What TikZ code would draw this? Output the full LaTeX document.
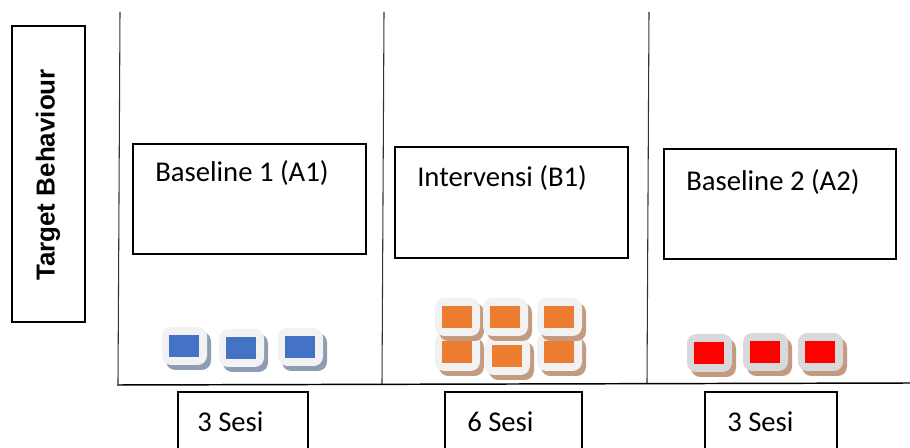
\documentclass[tikz,border=0pt]{standalone}
\usepackage{fontspec}
\setmainfont{Carlito}
\newfontfamily\tbfont{Liberation Sans}
\usetikzlibrary{fit}
\definecolor{tileblue}{HTML}{4472C4}
\definecolor{tileorange}{HTML}{ED7D31}
\definecolor{tilered}{HTML}{FF0000}
\definecolor{shblue}{HTML}{8E9CB4}
\definecolor{shbrown}{HTML}{C39B80}
\definecolor{litegray}{HTML}{F2F2F2}
\definecolor{midgray}{HTML}{D9D9D9}
\definecolor{linegray}{HTML}{333333}
\newcommand{\mytile}[5]{%
  \fill[#5,rounded corners=7] (#1+4,#2+5) rectangle ++(45,38);
  \fill[#4,rounded corners=7] (#1,#2) rectangle ++(45,38);
  \fill[#3] (#1+7,#2+8) rectangle ++(30,22);
}
\tikzset{
  lbl/.style={anchor=base west,inner sep=0pt,font=\fontsize{21.5}{24}\selectfont},
  framebox/.style={draw=black,line width=0.9pt,inner sep=0pt},
  divider/.style={draw=linegray,line width=0.8pt},
}
\begin{document}
\begin{tikzpicture}[x=0.75pt,y=-0.75pt]
\useasboundingbox (0,0) rectangle (910,448);
% y-axis label box
\node[framebox,fit={(12,26) (85,322)}] (tb) {};
\node[rotate=90,font=\tbfont\bfseries\fontsize{19.5}{22}\selectfont,inner sep=0pt] (tbl) at (48,175) {Target Behaviour};
% dividers
\coordinate (v1t) at (120,12); \coordinate (v1b) at (118,384);
\coordinate (v2t) at (384,12); \coordinate (v2b) at (382,384);
\coordinate (v3t) at (649,12); \coordinate (v3b) at (647,383);
\coordinate (axl) at (117,385); \coordinate (axr) at (910,383);
\draw[divider] (v1t) -- (v1b);
\draw[divider] (v2t) -- (v2b);
\draw[divider] (v3t) -- (v3b);
\draw[draw=black,line width=1.1pt] (axl) -- (axr);
% phase boxes
\node[framebox,fit={(133,144) (366,254)}] (p1) {};
\node[framebox,fit={(395,147) (628,258)}] (p2) {};
\node[framebox,fit={(664,149) (896,259)}] (p3) {};
\node[lbl] (p1t) at (155,182) {Baseline 1 (A1)};
\node[lbl] (p2t) at (417,187) {Intervensi (B1)};
\node[lbl] (p3t) at (686,191) {Baseline 2 (A2)};
% session boxes
\node[framebox,fit={(178,392) (308,452)}] (s1) {};
\node[framebox,fit={(445,392) (582,452)}] (s2) {};
\node[framebox,fit={(705,392) (837,452)}] (s3) {};
\node[lbl] (s1t) at (197,432) {3 Sesi};
\node[lbl] (s2t) at (467,432) {6 Sesi};
\node[lbl] (s3t) at (727,432) {3 Sesi};
% tiles
\mytile{162}{327}{tileblue}{litegray}{shblue}
\mytile{219}{329}{tileblue}{litegray}{shblue}
\mytile{278}{328}{tileblue}{litegray}{shblue}
\mytile{435}{333}{tileorange}{litegray}{shbrown}
\mytile{485}{337}{tileorange}{litegray}{shbrown}
\mytile{537}{333}{tileorange}{litegray}{shbrown}
\mytile{435}{298}{tileorange}{litegray}{shbrown}
\mytile{483}{298}{tileorange}{litegray}{shbrown}
\mytile{537}{298}{tileorange}{litegray}{shbrown}
\mytile{687}{334}{tilered}{midgray}{shbrown}
\mytile{743}{333}{tilered}{midgray}{shbrown}
\mytile{798}{333}{tilered}{midgray}{shbrown}
\end{tikzpicture}
\end{document}
